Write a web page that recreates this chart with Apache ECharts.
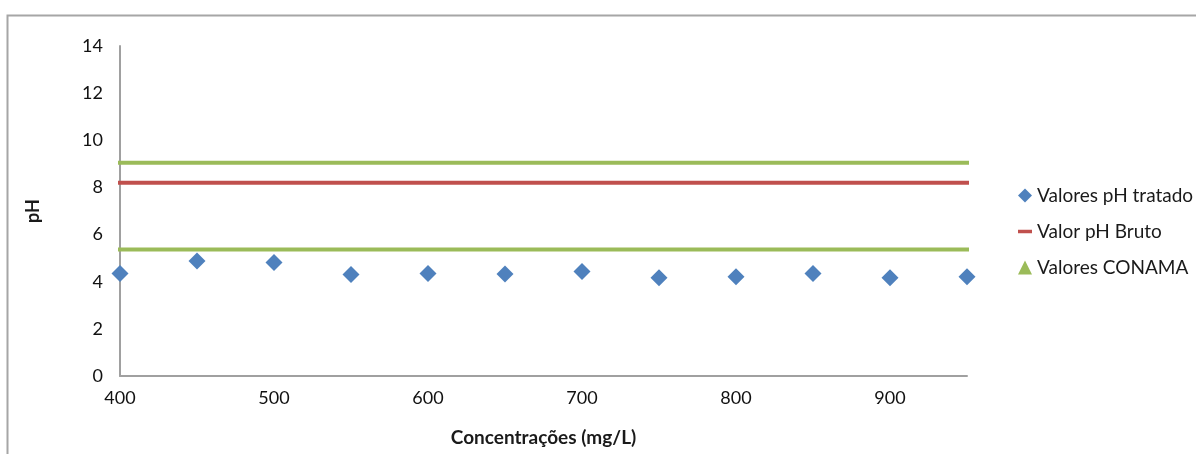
<!DOCTYPE html>
<html>
<head>
<meta charset="utf-8">
<script src="https://cdn.jsdelivr.net/npm/echarts@6/dist/echarts.min.js"></script>
<style>html,body{margin:0;padding:0;background:#fff;}#c{width:1196px;height:454px;}</style>
</head>
<body>
<div id="c"></div>
<script>
const concentrations = [400, 450, 500, 550, 600, 650, 700, 750, 800, 850, 900, 950];
const phTratado = [4.35, 4.88, 4.81, 4.31, 4.35, 4.33, 4.43, 4.17, 4.21, 4.35, 4.17, 4.21];
const refLineX = [395, 952];
const phBruto = 8.2;
const conamaMin = 5.37;
const conamaMax = 9.05;
const xTicks = {min: 400, max: 950, interval: 100};
const yTicks = {min: 0, max: 14, interval: 2};

const font = 'Lato, "Open Sans", sans-serif';
const chart = echarts.init(document.getElementById('c'));
chart.setOption({
  animation: false,
  textStyle: {fontFamily: font},
  graphic: [{
    type: 'rect', silent: true, z: -1,
    shape: {x: 7.5, y: 15.5, width: 1400, height: 800},
    style: {fill: 'none', stroke: '#a6a6a6', lineWidth: 2}
  }],
  grid: {left: 120, right: 229, top: 46, bottom: 78},
  legend: {
    orient: 'vertical', left: 1013, top: 181,
    itemWidth: 14, itemHeight: 14, itemGap: 17,
    textStyle: {fontFamily: font, fontSize: 19, color: '#1a1a1a'},
    data: [
      {name: 'Valores pH tratado', icon: 'diamond'},
      {name: 'Valor pH Bruto', icon: 'path://M0,0 L14,0 L14,3.5 L0,3.5 Z'},
      {name: 'Valores CONAMA', icon: 'triangle'}
    ]
  },
  xAxis: {
    type: 'value', min: xTicks.min, max: xTicks.max, interval: xTicks.interval,
    name: 'Concentrações (mg/L)', nameLocation: 'middle', nameGap: 52,
    nameTextStyle: {fontFamily: font, fontSize: 19, fontWeight: 'bold', color: '#1a1a1a'},
    axisLine: {lineStyle: {color: '#a0a0a0', width: 2}},
    axisTick: {show: false},
    splitLine: {show: false},
    axisLabel: {showMaxLabel: false, fontSize: 18, color: '#111', margin: 13, fontFamily: font}
  },
  yAxis: {
    type: 'value', min: yTicks.min, max: yTicks.max, interval: yTicks.interval,
    name: 'pH', nameLocation: 'middle', nameGap: 78, nameRotate: 90,
    nameTextStyle: {fontFamily: font, fontSize: 18, fontWeight: 'bold', color: '#1a1a1a'},
    axisLine: {show: true, lineStyle: {color: '#a0a0a0', width: 2}},
    axisTick: {show: false},
    splitLine: {show: false},
    axisLabel: {fontSize: 18, color: '#111', margin: 17, fontFamily: font}
  },
  series: [
    {
      name: 'Valores pH tratado', type: 'scatter', symbol: 'diamond', symbolSize: 17,
      itemStyle: {color: '#4F81BD', opacity: 1},
      data: concentrations.map((c, i) => [c, phTratado[i]]), z: 5
    },
    {
      name: 'Valor pH Bruto', type: 'line', symbol: 'none', clip: false,
      itemStyle: {color: '#C0504D'}, lineStyle: {color: '#C0504D', width: 4},
      data: refLineX.map(x => [x, phBruto])
    },
    {
      name: 'Valores CONAMA', type: 'line', symbol: 'none', clip: false,
      itemStyle: {color: '#9BBB59'}, lineStyle: {color: '#9BBB59', width: 4},
      data: refLineX.map(x => [x, conamaMax])
    },
    {
      name: 'Valores CONAMA', type: 'line', symbol: 'none', clip: false,
      itemStyle: {color: '#9BBB59'}, lineStyle: {color: '#9BBB59', width: 4},
      data: refLineX.map(x => [x, conamaMin])
    }
  ]
});
</script>
</body>
</html>
